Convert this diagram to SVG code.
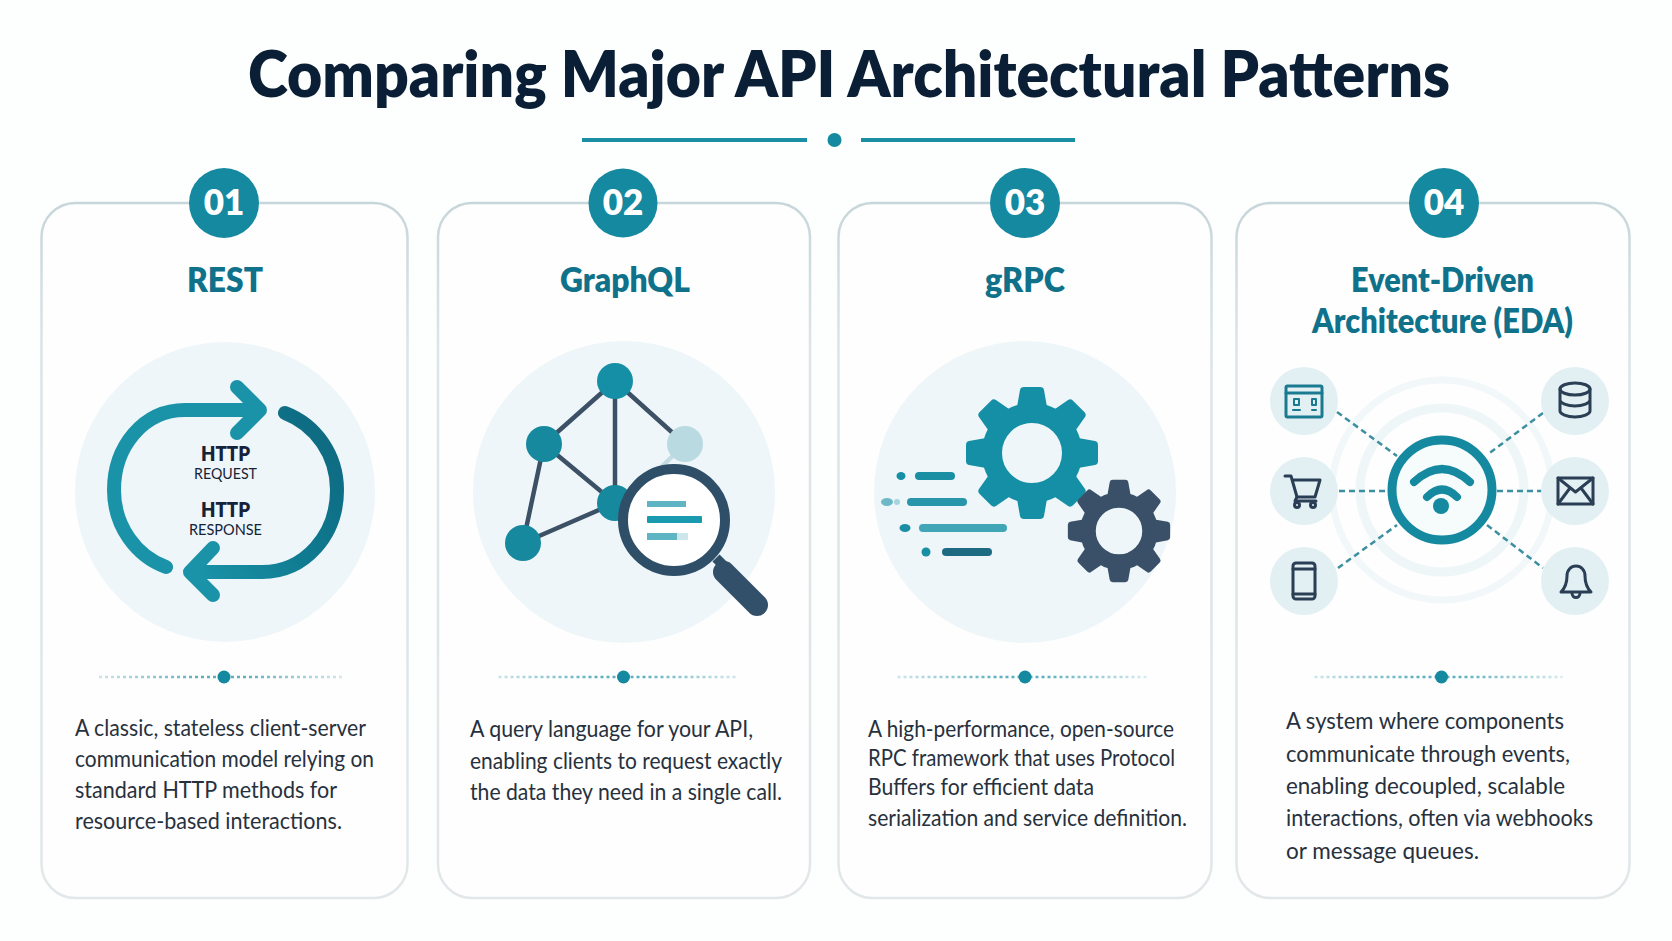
<svg xmlns="http://www.w3.org/2000/svg" width="1672" height="941" viewBox="0 0 1672 941">
<style>
text{font-family:"Lato","Liberation Sans",sans-serif}
.title{font-size:65px;font-weight:800;fill:#0a1f35}
.badge{fill:#15899f}
.num{font-size:35px;font-weight:800;fill:#fff;text-anchor:middle}
.head{font-size:33px;font-weight:800;fill:#10728a}
.body{font-size:23px;font-weight:400;fill:#27313d}
.frame{fill:#fefefe;stroke:url(#edge);stroke-width:2.5}
.disc{fill:#eef6f9}
.http{font-size:20px;font-weight:800;fill:#15233a}
.sub{font-size:16px;font-weight:400;fill:#15233a}
.arrow{fill:none;stroke:#1a93a8;stroke-width:14;stroke-linecap:round;stroke-linejoin:round}
.edge{stroke:#3d5166;stroke-width:4.5}
.gn{fill:#16899f}
.dash{stroke:#3b8f9f;stroke-width:2.5;stroke-dasharray:6 4;fill:none}
.sat{fill:#e3f0f3}
.ic{fill:none;stroke:#2a3f55;stroke-width:3;stroke-linejoin:round;stroke-linecap:round}
.sep{stroke:url(#fade);stroke-width:2.5;stroke-dasharray:3 3}
.seph{fill:#15899f}
.sp{fill:none;stroke-width:8;stroke-linecap:round}
</style>
<defs>
<linearGradient id="edge" x1="0" y1="0" x2="0" y2="1">
<stop offset="0" stop-color="#c7d6da"/><stop offset=".2" stop-color="#dbe4e7"/><stop offset="1" stop-color="#e2e7e9"/>
</linearGradient>
<linearGradient id="fade" gradientUnits="userSpaceOnUse" x1="-125" y1="0" x2="125" y2="0">
<stop offset="0" stop-color="#cfe6ea"/><stop offset=".4" stop-color="#5fb0bf"/><stop offset=".6" stop-color="#5fb0bf"/><stop offset="1" stop-color="#d8ebee"/>
</linearGradient>
<linearGradient id="dark" x1="1" y1=".25" x2="0" y2="1">
<stop offset="0" stop-color="#0e6b82"/><stop offset=".45" stop-color="#0f7a90"/><stop offset="1" stop-color="#1a93a8"/>
</linearGradient>
<path id="tooth" d="M-15-46-12-63Q-11.5-66-8-66H8Q11.5-66 12-63L15-46Z"/>
<g id="gear">
<circle r="40" fill="none" stroke="currentColor" stroke-width="20"/>
<use href="#tooth"/><use href="#tooth" transform="rotate(45)"/><use href="#tooth" transform="rotate(90)"/><use href="#tooth" transform="rotate(135)"/><use href="#tooth" transform="rotate(180)"/><use href="#tooth" transform="rotate(225)"/><use href="#tooth" transform="rotate(270)"/><use href="#tooth" transform="rotate(315)"/>
</g>
</defs>
<rect width="1672" height="941" fill="#fdfefe"/>
<g id="header">
<text class="title" x="248" y="97" textLength="1202" lengthAdjust="spacingAndGlyphs">Comparing Major API Architectural Patterns</text>
<rect x="582" y="138" width="225" height="4" fill="#1a8ea3"/>
<circle cx="834.500" cy="140" r="7" fill="#15899f"/>
<rect x="861" y="138" width="214" height="4" fill="#1a8ea3"/>
</g>
<g id="panels">
<rect class="frame" x="41.500" y="203" width="366" height="695" rx="34"/>
<rect class="frame" x="438" y="203" width="372" height="695" rx="34"/>
<rect class="frame" x="838.500" y="203" width="373" height="695" rx="34"/>
<rect class="frame" x="1236.500" y="203" width="393" height="695" rx="34"/>
<circle class="disc" cx="225" cy="492" r="150"/>
<circle class="disc" cx="624" cy="492" r="151"/>
<circle class="disc" cx="1025" cy="492" r="151"/>
<circle cx="1442" cy="490" r="110" fill="none" stroke="#f2f8fa" stroke-width="7"/>
<circle cx="1442" cy="490" r="82" fill="none" stroke="#eef6f8" stroke-width="9"/>
</g>
<g id="connectors">
<path class="edge" d="M615 381 544 444M615 381V503M615 381 685 444M544 444 615 503M544 444 523 543M523 543 615 503"/>
<path d="M685 444 650 478" stroke="#c4dde3" stroke-width="4.500" fill="none"/>
<path class="dash" d="M1337 412 1397 456M1543 413 1487 455M1339 491H1388M1497 491H1542M1338 568 1397 525M1487 525 1543 568"/>
</g>
<g id="card-rest">
<circle class="badge" cx="224" cy="203" r="35"/>
<text class="num" x="224" y="215">01</text>
<text class="head" x="187" y="292" textLength="76" lengthAdjust="spacingAndGlyphs">REST</text>
<path class="arrow" d="M258 410H185C143 410 114 447 114 490C114 526 136 556 166 567"/>
<path class="arrow" d="M237 387 260 410 237 433"/>
<path class="arrow" style="stroke:url(#dark)" d="M285 413C316 425 337 455 337 490C337 535 305 572 262 572H193"/>
<path class="arrow" d="M213 548 190 572 213 595"/>
<text class="http" x="201" y="461" textLength="49" lengthAdjust="spacingAndGlyphs">HTTP</text>
<text class="sub" x="194" y="479" textLength="63" lengthAdjust="spacingAndGlyphs">REQUEST</text>
<text class="http" x="201" y="517" textLength="49" lengthAdjust="spacingAndGlyphs">HTTP</text>
<text class="sub" x="189" y="535" textLength="73" lengthAdjust="spacingAndGlyphs">RESPONSE</text>
<line class="sep" transform="translate(222 677)" x1="-123" x2="123"/>
<circle class="seph" cx="224" cy="677" r="6.500"/>
<text class="body" x="75" y="736" textLength="291" lengthAdjust="spacingAndGlyphs">A classic, stateless client-server</text>
<text class="body" x="75" y="767" textLength="299" lengthAdjust="spacingAndGlyphs">communication model relying on</text>
<text class="body" x="75" y="798" textLength="262" lengthAdjust="spacingAndGlyphs">standard HTTP methods for</text>
<text class="body" x="75" y="829" textLength="267" lengthAdjust="spacingAndGlyphs">resource-based interactions.</text>
</g>
<g id="card-graphql">
<circle class="badge" cx="623" cy="203" r="34.500"/>
<text class="num" x="623" y="215">02</text>
<text class="head" x="560" y="292" textLength="130" lengthAdjust="spacingAndGlyphs">GraphQL</text>
<circle class="gn" cx="615" cy="381" r="18" style="fill:#158fa5"/>
<circle class="gn" cx="544" cy="444" r="18"/>
<circle cx="685" cy="444" r="18" fill="#b9dae1"/>
<circle class="gn" cx="615" cy="503" r="18"/>
<circle class="gn" cx="523" cy="543" r="18"/>
<path d="M716 558 728 570" stroke="#2f4f68" stroke-width="10" fill="none"/>
<path d="M724 572 757 605" stroke="#33506a" stroke-width="22" stroke-linecap="round" fill="none"/>
<circle cx="674" cy="520" r="51" fill="#fff" stroke="#2f4f68" stroke-width="10"/>
<rect x="647" y="501" width="39" height="6" fill="#5fb5c4"/>
<rect x="647" y="516" width="55" height="7" rx="1" fill="#1a9ab0"/>
<rect x="647" y="533" width="41" height="7" rx="1" fill="#cde6ea"/>
<rect x="647" y="533" width="30" height="7" fill="#5fb5c4"/>
<line class="sep" transform="translate(618.500 677)" x1="-120" x2="120"/>
<circle class="seph" cx="623.500" cy="677" r="6.500"/>
<text class="body" x="470" y="737" textLength="283" lengthAdjust="spacingAndGlyphs">A query language for your API,</text>
<text class="body" x="470" y="769" textLength="312" lengthAdjust="spacingAndGlyphs">enabling clients to request exactly</text>
<text class="body" x="470" y="800" textLength="312" lengthAdjust="spacingAndGlyphs">the data they need in a single call.</text>
</g>
<g id="card-grpc">
<circle class="badge" cx="1025" cy="203" r="35"/>
<text class="num" x="1025" y="215">03</text>
<text class="head" x="985" y="292" textLength="80" lengthAdjust="spacingAndGlyphs">gRPC</text>
<use href="#gear" transform="translate(1032 453)" fill="#158fa5" color="#158fa5"/>
<use href="#gear" transform="translate(1119 531) scale(.775)" fill="#3a5068" color="#3a5068"/>
<ellipse cx="901" cy="476" rx="4.500" ry="4" fill="#158fa5"/>
<path class="sp" stroke="#1a8ea3" d="M919 476H951"/>
<ellipse cx="887" cy="502" rx="6" ry="4" fill="#6bb8c6"/>
<ellipse cx="897" cy="502" rx="3" ry="3" fill="#a8d5dd"/>
<path class="sp" stroke="#2796aa" d="M911 502H963"/>
<ellipse cx="905" cy="528" rx="5.500" ry="4" fill="#1a8ea3"/>
<path class="sp" stroke="#3fa5b7" d="M923 528H1003"/>
<circle cx="926" cy="552" r="4.500" fill="#1a8ea3"/>
<path class="sp" stroke="#1d6a82" d="M946 552H988"/>
<line class="sep" transform="translate(1022.500 677)" x1="-125" x2="125"/>
<circle class="seph" cx="1025" cy="677" r="6.500"/>
<text class="body" x="868" y="737" textLength="306" lengthAdjust="spacingAndGlyphs">A high-performance, open-source</text>
<text class="body" x="868" y="766" textLength="307" lengthAdjust="spacingAndGlyphs">RPC framework that uses Protocol</text>
<text class="body" x="868" y="795" textLength="226" lengthAdjust="spacingAndGlyphs">Buffers for efficient data</text>
<text class="body" x="868" y="826" textLength="319" lengthAdjust="spacingAndGlyphs">serialization and service definition.</text>
</g>
<g id="card-eda">
<circle class="badge" cx="1444" cy="203" r="35"/>
<text class="num" x="1444" y="215">04</text>
<text class="head" x="1351" y="292" textLength="183" lengthAdjust="spacingAndGlyphs">Event-Driven</text>
<text class="head" x="1312" y="333" textLength="261" lengthAdjust="spacingAndGlyphs">Architecture (EDA)</text>
<circle cx="1442" cy="490" r="50" fill="#f6fbfc" stroke="#15899f" stroke-width="9"/>
<path d="M1414 482Q1442 456 1470 482M1427 497Q1442 482 1457 497" fill="none" stroke="#15899f" stroke-width="8" stroke-linecap="round"/>
<circle cx="1441" cy="506" r="8" fill="#15899f"/>
<circle class="sat" cx="1304" cy="401" r="34"/><circle class="sat" cx="1304" cy="491" r="34"/><circle class="sat" cx="1304" cy="581" r="34"/>
<circle class="sat" cx="1575" cy="401" r="34"/><circle class="sat" cx="1575" cy="491" r="34"/><circle class="sat" cx="1575" cy="581" r="34"/>
<g class="ic" style="stroke:#1a7a90">
<rect x="1286" y="386" width="36" height="31" rx="1.500"/><path d="M1286 393H1322"/>
<path d="M1294 399h5v6h-5zM1293 410h7M1312 399h4v6h-4zM1312 410h4" stroke-width="2"/>
</g>
<g class="ic">
<ellipse cx="1575" cy="389" rx="15" ry="6"/>
<path d="M1560 389V411C1560 414 1567 417 1575 417S1590 414 1590 411V389M1560 400C1560 403 1567 406 1575 406S1590 403 1590 400"/>
<path d="M1285 476H1291L1297 497H1315L1320 480H1293"/>
<circle cx="1297" cy="505" r="2.500"/><circle cx="1313" cy="505" r="2.500"/>
<path d="M1297 497 1295 501H1316"/>
<rect x="1558" y="478" width="35" height="26"/><path d="M1558 478 1575.500 492 1593 478M1558 504 1570 488M1593 504 1581 488"/>
<rect x="1293" y="563" width="22" height="36" rx="3"/><path d="M1293 569H1315M1293 594H1315"/>
<path d="M1561 592C1566 587 1567 582 1567 576C1567 570 1571 566 1576 566C1581 566 1585 570 1585 576C1585 582 1586 587 1591 592ZM1572 593C1572 599 1580 599 1580 593"/>
</g>
<line class="sep" transform="translate(1438.500 677)" x1="-124" x2="124"/>
<circle class="seph" cx="1441.500" cy="677" r="6.500"/>
<text class="body" x="1286" y="729" textLength="278" lengthAdjust="spacingAndGlyphs">A system where components</text>
<text class="body" x="1286" y="762" textLength="284" lengthAdjust="spacingAndGlyphs">communicate through events,</text>
<text class="body" x="1286" y="794" textLength="279" lengthAdjust="spacingAndGlyphs">enabling decoupled, scalable</text>
<text class="body" x="1286" y="826" textLength="307" lengthAdjust="spacingAndGlyphs">interactions, often via webhooks</text>
<text class="body" x="1286" y="859" textLength="193" lengthAdjust="spacingAndGlyphs">or message queues.</text>
</g>
</svg>
